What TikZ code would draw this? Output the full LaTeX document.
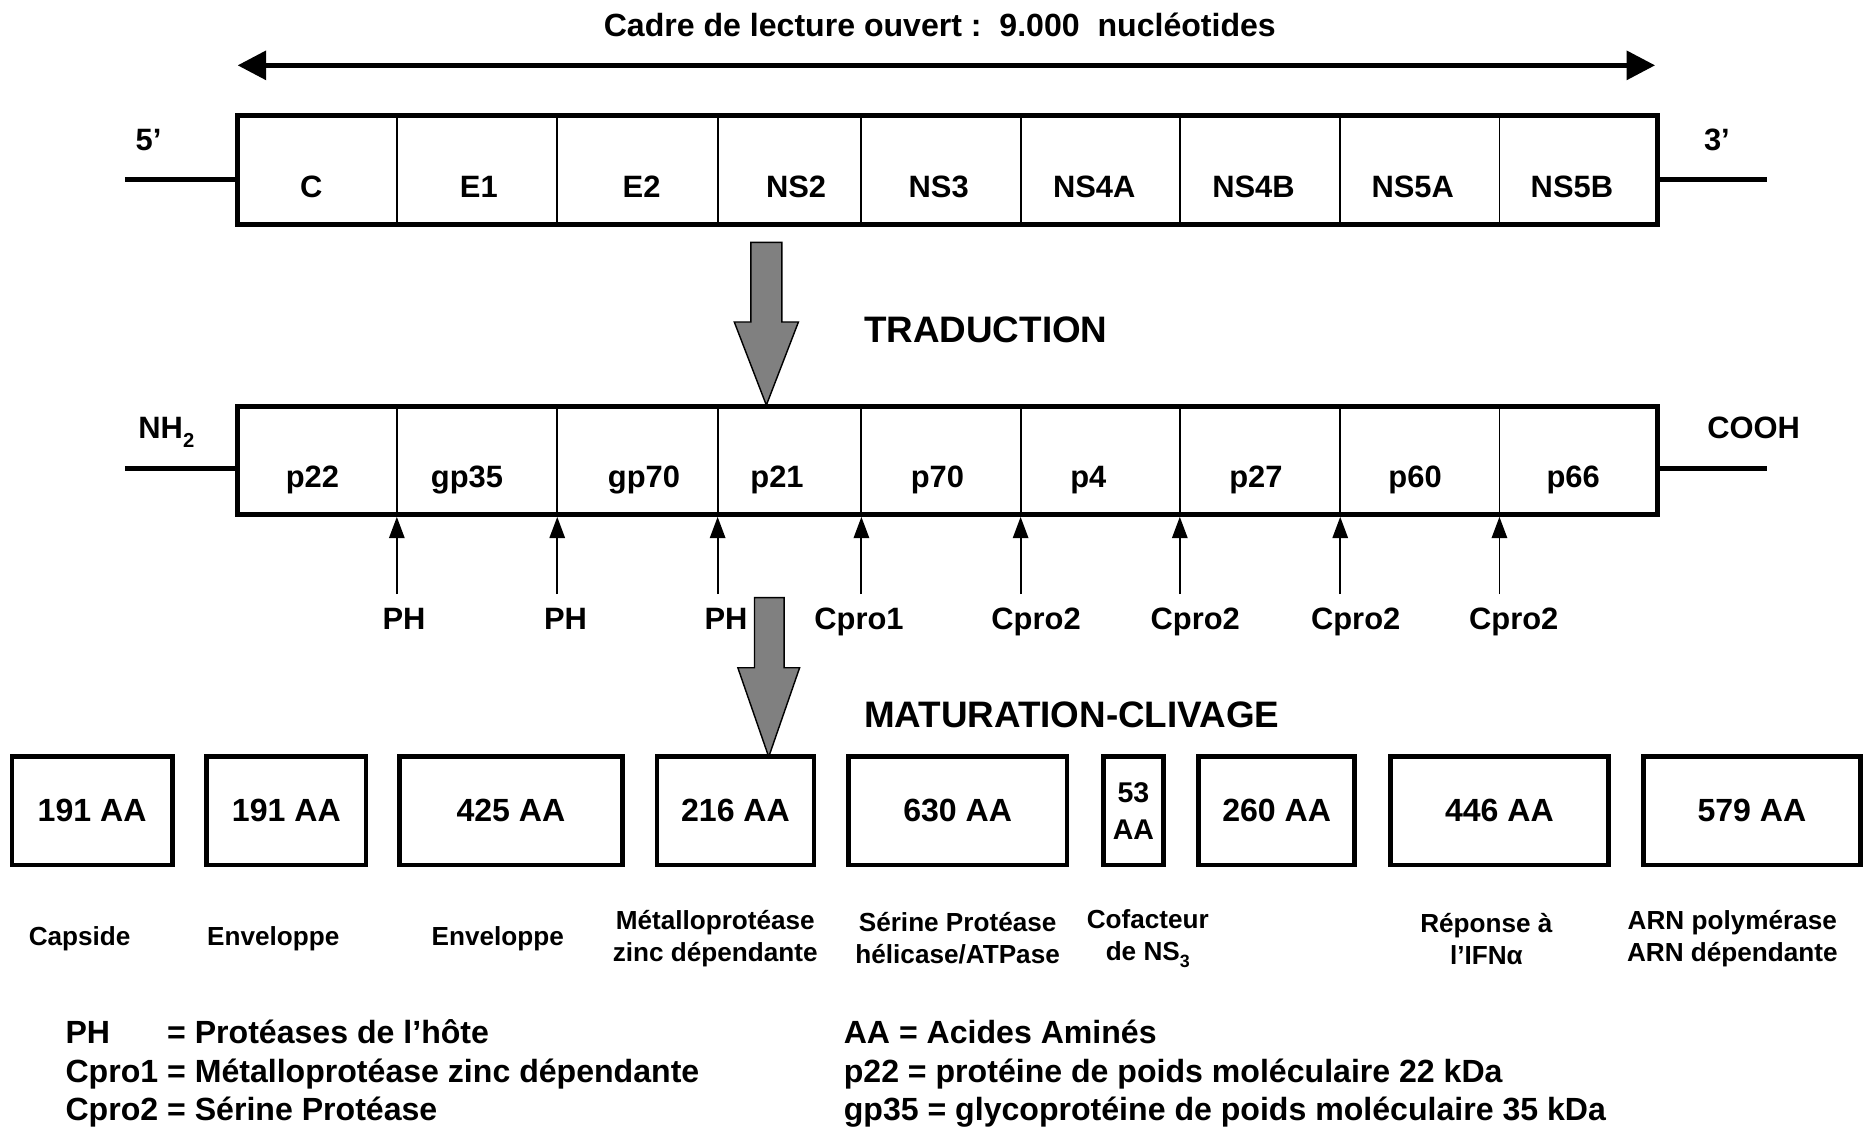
\documentclass[tikz,border=0pt]{standalone}
\usepackage{fontspec}
\setmainfont{Liberation Sans}
\usetikzlibrary{arrows.meta}
\begin{document}
\begin{tikzpicture}[x=1pt,y=-1pt,
  lbl/.style={font=\bfseries\fontsize{26}{30}\selectfont, inner sep=0pt},
  big/.style={font=\bfseries\fontsize{31}{36}\selectfont, inner sep=0pt},
  aa/.style={font=\bfseries\fontsize{27}{31}\selectfont, inner sep=0pt},
  desc/.style={font=\bfseries\fontsize{22}{27}\selectfont, inner sep=0pt, align=center},
  leg/.style={font=\bfseries\fontsize{27}{32}\selectfont, inner sep=0pt, anchor=base west},
  strip/.style={draw, line width=4pt, minimum width=1195pt, minimum height=92pt, inner sep=0pt},
  pbox/.style={draw, line width=4pt, minimum height=91pt, inner sep=0pt},
  divider/.style={line width=1.6pt},
  endline/.style={line width=4pt},
  cleave/.style={line width=1.6pt, -{Triangle[length=18pt,width=13pt]}},
  blockarrow/.style={draw=black, line width=1.2pt, fill=black!50},
]
\fill[white] (0,0) rectangle (1568,949);
\useasboundingbox (0,0) rectangle (1568,949);

% title and open reading frame arrow
\node[lbl, font=\bfseries\fontsize{27}{31}\selectfont, anchor=base] (title) at (791,31) {Cadre de lecture ouvert :~~9.000~~nucléotides};
\coordinate (orfL) at (200,55);
\coordinate (orfR) at (1393,55);
\draw[line width=4pt, {Triangle[length=24pt,width=24pt]}-{Triangle[length=24pt,width=24pt]}] (orfL) -- (orfR);

% RNA strip
\node[strip] (rna) at (797.5,143) {};
\foreach \x in {334,469,604,725,859,993,1128,1262} \draw[divider] (\x,97) -- (\x,189);
\foreach \x/\t/\n in {262/C/gC, 403/E1/gEa, 540/E2/gEb, 670/NS2/gNSb, 790/NS3/gNSc, 921/NS4A/gNSda, 1055/NS4B/gNSdb, 1189/NS5A/gNSea, 1323/NS5B/gNSeb}
  \node[lbl, anchor=base] (\n) at (\x,166) {\t};
\node[lbl, anchor=base] (five) at (125,127) {5’};
\node[lbl, anchor=base] (three) at (1445,127) {3’};
\coordinate (fiveEnd) at (105,151);
\coordinate (threeEnd) at (1487,151);
\draw[endline] (fiveEnd) -- (fiveEnd -| rna.west);
\draw[endline] (threeEnd) -- (threeEnd -| rna.east);

% translation arrow
\draw[blockarrow] (632,204) -- (658,204) -- (658,271) -- (672,271) -- (645,341) -- (618,271) -- (632,271) -- cycle;
\node[big, anchor=base west] (trad) at (727,288) {TRADUCTION};

% protein strip
\node[strip, minimum height=91pt] (prot) at (797.5,387.5) {};
\foreach \x in {334,469,604,725,859,993,1128,1262} \draw[divider] (\x,342) -- (\x,433);
\foreach \x/\t/\n in {263/p22/pa, 393/gp35/pb, 542/gp70/pc, 654/p21/pd, 789/p70/pe, 916/p4/pf, 1057/p27/pg, 1191/p60/ph, 1324/p66/pi}
  \node[lbl, anchor=base] (\n) at (\x,410) {\t};
\node[lbl, anchor=base] (nh) at (140,369) {NH\raisebox{-0.3em}{\fontsize{17}{17}\selectfont 2}};
\node[lbl, anchor=base] (cooh) at (1476,369) {COOH};
\coordinate (nhEnd) at (105,394);
\coordinate (coohEnd) at (1487,394);
\draw[endline] (nhEnd) -- (nhEnd -| prot.west);
\draw[endline] (coohEnd) -- (coohEnd -| prot.east);

% cleavage sites
\foreach \x/\n in {334/a,469/b,604/c,725/d,859/e,993/f,1128/g,1262/h} {
  \coordinate (cut\n) at (\x,500);
  \draw[cleave] (cut\n) -- (cut\n |- prot.south);
}
\foreach \x/\t/\n in {340/PH/ka, 476/PH/kb, 611/PH/kc, 723/Cpro1/kd, 872/Cpro2/ke, 1006/Cpro2/kf, 1141/Cpro2/kg, 1274/Cpro2/kh}
  \node[lbl, anchor=base] (\n) at (\x,530) {\t};

% maturation arrow
\draw[blockarrow] (635,503) -- (660,503) -- (660,562) -- (673,562) -- (647,637) -- (621,562) -- (635,562) -- cycle;
\node[big, anchor=base west] (mat) at (727,612) {MATURATION-CLIVAGE};

% mature proteins
\foreach \cx/\w/\t/\n in {77.5/135/191 AA/ba, 241/134/191 AA/bb, 430/188/425 AA/bc, 619/132/216 AA/bd, 806/184/630 AA/be, 1074.5/131/260 AA/bg, 1262/184/446 AA/bh, 1474.5/183/579 AA/bi}
  \node[pbox, aa, minimum width=\w pt] (\n) at (\cx,682.5) {\t};
\node[pbox, aa, font=\bfseries\fontsize{24}{31}\selectfont, align=center, minimum width=50pt] (bf) at (954,682.5) {53\\AA};

% functions
\node[desc] (dA) at (67,790) {Capside};
\node[desc] (dB) at (230,790) {Enveloppe};
\node[desc] (dC) at (419,790) {Enveloppe};
\node[desc] (dD) at (602,790) {Métalloprotéase\\zinc dépendante};
\node[desc] (dE) at (806,790) {Sérine Protéase\\hélicase/ATPase};
\node[desc] (dF) at (966,790) {Cofacteur\\de NS\raisebox{-0.3em}{\fontsize{15}{15}\selectfont 3}};
\node[desc] (dH) at (1251,790) {Réponse à\\l’IFNα};
\node[desc] (dI) at (1458,790) {ARN polymérase\\ARN dépendante};

% legend
\node[leg] (lg1) at (55,878) {\rlap{PH}\hphantom{Cpro1} = Protéases de l’hôte};
\node[leg] (lg2) at (55,911) {Cpro1 = Métalloprotéase zinc dépendante};
\node[leg] (lg3) at (55,943) {Cpro2 = Sérine Protéase};
\node[leg] (lg4) at (710,878) {AA = Acides Aminés};
\node[leg] (lg5) at (710,911) {p22 = protéine de poids moléculaire 22 kDa};
\node[leg] (lg6) at (710,943) {gp35 = glycoprotéine de poids moléculaire 35 kDa};
\end{tikzpicture}
\end{document}
